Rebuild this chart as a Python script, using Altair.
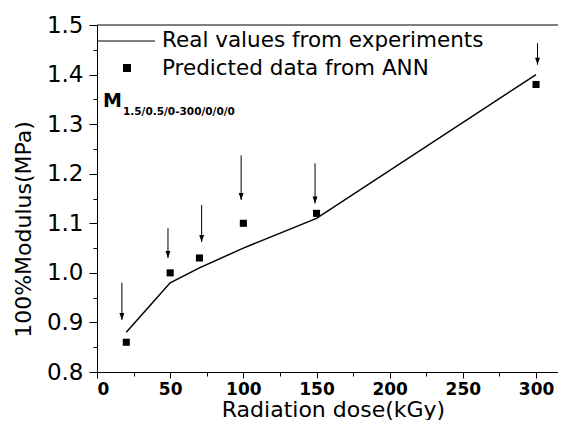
import altair as alt
import pandas as pd

# ---- data ----
dose = [20, 50, 70, 100, 150, 300]
real_modulus = [0.88, 0.98, 1.01, 1.05, 1.11, 1.40]
pred_modulus = [0.86, 1.00, 1.03, 1.10, 1.12, 1.38]

arrow_x = [17, 48.5, 71.5, 98.5, 149, 301]
arrow_top = [0.98, 1.09, 1.137, 1.237, 1.221, 1.463]
arrow_tip = [0.905, 1.03, 1.062, 1.147, 1.14, 1.42]

x_ticks = [0, 50, 100, 150, 200, 250, 300]
x_minor = [25, 75, 125, 175, 225, 275]
y_ticks = [0.8, 0.9, 1.0, 1.1, 1.2, 1.3, 1.4, 1.5]
y_minor = [0.85, 0.95, 1.05, 1.15, 1.25, 1.35, 1.45]

legend_labels = ["Real values from experiments", "Predicted data from ANN"]
sample_label = "M"
sample_sub = "1.5/0.5/0-300/0/0/0"

FONT = "DejaVu Sans"
W, H = 461, 347

real_df = pd.DataFrame({"dose": dose, "modulus": real_modulus})
pred_df = pd.DataFrame({"dose": dose, "modulus": pred_modulus})
arrow_df = pd.DataFrame({"x": arrow_x, "top": arrow_top, "tip": arrow_tip})
one = pd.DataFrame({"a": [0]})

xs = alt.Scale(domain=[0, 315], nice=False, zero=False)
ys = alt.Scale(domain=[0.8, 1.5], nice=False, zero=False)

x_axis = alt.Axis(
    values=x_ticks, format="d", grid=False, orient="bottom",
    labelFont=FONT, labelFontWeight="bold", labelFontSize=17, labelColor="black",
    labelPadding=3, tickSize=6, tickColor="black", domainColor="black",
    title="Radiation dose(kGy)", titleFont=FONT, titleFontSize=22,
    titleFontWeight="normal", titleColor="black",
    titleX=236, titleY=44, titleAlign="center", titleBaseline="alphabetic",
)
y_axis = alt.Axis(
    values=y_ticks, format=".1f", grid=False, orient="left",
    labelFont=FONT, labelFontSize=23, labelColor="black",
    labelPadding=6, tickSize=8, tickColor="black", domainColor="black",
    title="100%Modulus(MPa)", titleFont=FONT, titleFontSize=22,
    titleFontWeight="normal", titleColor="black",
    titleX=-62, titleY=204, titleAngle=270, titleAlign="center",
    titleBaseline="bottom",
)

line = alt.Chart(real_df).mark_line(color="black", strokeWidth=1.5).encode(
    x=alt.X("dose:Q", scale=xs, axis=x_axis),
    y=alt.Y("modulus:Q", scale=ys, axis=y_axis),
)

pts = alt.Chart(pred_df).mark_square(color="black", size=50, opacity=1).encode(
    x=alt.X("dose:Q", scale=xs, axis=None),
    y=alt.Y("modulus:Q", scale=ys, axis=None),
)

arrows = alt.Chart(arrow_df).mark_rule(color="black", strokeWidth=1).encode(
    x=alt.X("x:Q", scale=xs, axis=None),
    y=alt.Y("top:Q", scale=ys, axis=None),
    y2="tip:Q",
)
heads = alt.Chart(arrow_df).mark_point(
    shape="M-0.35,-1L0.35,-1L0,0Z", filled=True, color="black", size=196, opacity=1
).encode(
    x=alt.X("x:Q", scale=xs, axis=None),
    y=alt.Y("tip:Q", scale=ys, axis=None),
)

minor = alt.Chart(one).mark_point(opacity=0).encode(
    x=alt.X("a:Q", scale=xs, axis=alt.Axis(values=x_minor, labels=False, grid=False,
            domain=False, tickSize=4, tickColor="black", orient="bottom", title=None)),
    y=alt.Y("a:Q", scale=ys, axis=alt.Axis(values=y_minor, labels=False, grid=False,
            domain=False, tickSize=4, tickColor="black", orient="left", title=None)),
)

top_border = alt.Chart(one).mark_rule(color="black", strokeWidth=1).encode(
    x=alt.value(0), x2=alt.value(W), y=alt.value(0)
)

leg_line = alt.Chart(one).mark_rule(color="black", strokeWidth=1.2).encode(
    x=alt.value(0), x2=alt.value(58), y=alt.value(16)
)
leg_sq = alt.Chart(one).mark_square(color="black", size=64, opacity=1).encode(
    x=alt.value(30), y=alt.value(43)
)
leg_t1 = alt.Chart(one).mark_text(
    text=legend_labels[0], font=FONT, fontSize=21.5, align="left",
    baseline="alphabetic", color="black"
).encode(x=alt.value(65), y=alt.value(22))
leg_t2 = alt.Chart(one).mark_text(
    text=legend_labels[1], font=FONT, fontSize=21.5, align="left",
    baseline="alphabetic", color="black"
).encode(x=alt.value(65), y=alt.value(50))

m_t = alt.Chart(one).mark_text(
    text=sample_label, font=FONT, fontSize=19, fontWeight="bold", align="left",
    baseline="alphabetic", color="black"
).encode(x=alt.value(6), y=alt.value(82))
m_sub = alt.Chart(one).mark_text(
    text=sample_sub, font=FONT, fontSize=10.5, fontWeight="bold", align="left",
    baseline="alphabetic", color="black"
).encode(x=alt.value(26), y=alt.value(90))

chart = alt.layer(
    minor, line, arrows, heads, pts, top_border, leg_line, leg_sq, leg_t1, leg_t2, m_t, m_sub
).resolve_axis(x="independent", y="independent").properties(
    width=W, height=H,
    autosize=alt.AutoSizeParams(type="none"),
    padding={"left": 89, "top": 17, "right": 0, "bottom": 48},
    background="white",
).configure_view(stroke=None)

chart.save("out.html", embed_options={"renderer": "svg", "actions": False})
